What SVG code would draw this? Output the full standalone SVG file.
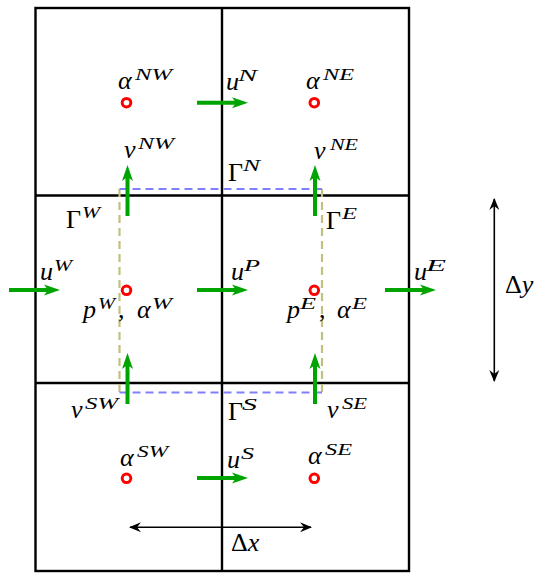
<svg xmlns="http://www.w3.org/2000/svg" width="538" height="573" viewBox="0 0 538 573">
<style>
.grid{fill:none;stroke:#000;stroke-width:2.4}
.g{stroke:#00a400;stroke-width:4;fill:none;marker-end:url(#ga)}
.bk{stroke:#000;stroke-width:1.6;fill:none;marker-start:url(#ka);marker-end:url(#ka)}
.bd{stroke:#8080ff;stroke-width:2.2;stroke-dasharray:8 5;fill:none}
.od{stroke:#c0c080;stroke-width:2.2;stroke-dasharray:8 5;fill:none}
.pt{fill:#fff;stroke:#ff0000;stroke-width:3}
text{font-family:"Liberation Serif","DejaVu Serif",serif;font-size:26px;fill:#000}
.i{font-style:italic}
.s{font-style:italic;font-size:16px}
</style>
<defs>
<marker id="ga" markerUnits="userSpaceOnUse" viewBox="-8 -7 20 14" markerWidth="20" markerHeight="14" refX="0" refY="0" orient="auto" overflow="visible">
<path d="M10,0 L-6,-5.5 L-2,0 L-6,5.5 Z" fill="#00a400"/>
</marker>
<marker id="ka" markerUnits="userSpaceOnUse" viewBox="-10 -6 20 12" markerWidth="20" markerHeight="12" refX="0" refY="0" orient="auto-start-reverse" overflow="visible">
<path d="M1,0 L-11,-5 L-7,0 L-11,5 Z" fill="#000"/>
</marker>
</defs>
<g id="grid">
<rect class="grid" x="35.5" y="8" width="373.5" height="563"/>
<line class="grid" x1="222" y1="8" x2="222" y2="571"/>
<line class="grid" x1="35.5" y1="195.5" x2="409" y2="195.5"/>
<line class="grid" x1="35.5" y1="383" x2="409" y2="383"/>
</g>
<g id="control-volume">
<line class="od" x1="119.5" y1="189" x2="119.5" y2="392.5"/>
<line class="od" x1="322" y1="189" x2="322" y2="392.5"/>
<line class="bd" x1="119.5" y1="189" x2="322" y2="189"/>
<line class="bd" x1="119.5" y1="392.5" x2="322" y2="392.5"/>
</g>
<g id="connectors">
<line class="g" x1="197" y1="102.7" x2="238" y2="102.7"/>
<line class="g" x1="9" y1="290" x2="50" y2="290"/>
<line class="g" x1="197" y1="290" x2="238" y2="290"/>
<line class="g" x1="385" y1="290" x2="426" y2="290"/>
<line class="g" x1="197" y1="478" x2="238" y2="478"/>
<line class="g" x1="127.5" y1="216" x2="127.5" y2="175"/>
<line class="g" x1="315" y1="216" x2="315" y2="175"/>
<line class="g" x1="127.5" y1="404" x2="127.5" y2="363"/>
<line class="g" x1="315" y1="404" x2="315" y2="363"/>
<line class="bk" x1="130" y1="527.3" x2="311" y2="527.3"/>
<line class="bk" x1="494.3" y1="199" x2="494.3" y2="381"/>
</g>
<g id="alpha-NW"><circle class="pt" cx="126.5" cy="102.7" r="4.3"/><text class="i" x="118" y="89">α</text><text class="s" x="135" y="80" textLength="37" lengthAdjust="spacingAndGlyphs">NW</text></g>
<g id="alpha-NE"><circle class="pt" cx="314.3" cy="102.7" r="4.3"/><text class="i" x="306" y="89">α</text><text class="s" x="323" y="80" textLength="31" lengthAdjust="spacingAndGlyphs">NE</text></g>
<g id="p-W"><circle class="pt" cx="126.5" cy="290.3" r="4.3"/><text class="i" x="83" y="318">p</text><text class="s" x="98" y="309" textLength="17" lengthAdjust="spacingAndGlyphs">W</text><text x="118" y="318">,</text><text class="i" x="137" y="318">α</text><text class="s" x="152" y="309" textLength="20" lengthAdjust="spacingAndGlyphs">W</text></g>
<g id="p-E"><circle class="pt" cx="314.3" cy="290.3" r="4.3"/><text class="i" x="287" y="318">p</text><text class="s" x="300" y="309" textLength="16" lengthAdjust="spacingAndGlyphs">E</text><text x="319" y="318">,</text><text class="i" x="337" y="318">α</text><text class="s" x="352" y="309" textLength="15" lengthAdjust="spacingAndGlyphs">E</text></g>
<g id="alpha-SW"><circle class="pt" cx="126.5" cy="478.3" r="4.3"/><text class="i" x="120" y="466">α</text><text class="s" x="137" y="457" textLength="31" lengthAdjust="spacingAndGlyphs">SW</text></g>
<g id="alpha-SE"><circle class="pt" cx="314.3" cy="478.3" r="4.3"/><text class="i" x="308" y="464">α</text><text class="s" x="325" y="455" textLength="27" lengthAdjust="spacingAndGlyphs">SE</text></g>
<g id="u-N"><text class="i" x="226" y="90">u</text><text class="s" x="238" y="81" textLength="19" lengthAdjust="spacingAndGlyphs">N</text></g>
<g id="u-W"><text class="i" x="40" y="280">u</text><text class="s" x="54" y="271" textLength="18" lengthAdjust="spacingAndGlyphs">W</text></g>
<g id="u-P"><text class="i" x="231" y="280">u</text><text class="s" x="244" y="271" textLength="16" lengthAdjust="spacingAndGlyphs">P</text></g>
<g id="u-E"><text class="i" x="414" y="280">u</text><text class="s" x="426" y="271" textLength="20" lengthAdjust="spacingAndGlyphs">E</text></g>
<g id="u-S"><text class="i" x="227" y="468">u</text><text class="s" x="241" y="459" textLength="13" lengthAdjust="spacingAndGlyphs">S</text></g>
<g id="v-NW"><text class="i" x="124" y="158">v</text><text class="s" x="138" y="149" textLength="36" lengthAdjust="spacingAndGlyphs">NW</text></g>
<g id="v-NE"><text class="i" x="314" y="159">v</text><text class="s" x="330" y="150" textLength="28" lengthAdjust="spacingAndGlyphs">NE</text></g>
<g id="v-SW"><text class="i" x="71" y="418">v</text><text class="s" x="85" y="409" textLength="33" lengthAdjust="spacingAndGlyphs">SW</text></g>
<g id="v-SE"><text class="i" x="327" y="418">v</text><text class="s" x="342" y="409" textLength="25" lengthAdjust="spacingAndGlyphs">SE</text></g>
<g id="Gamma-N"><text x="228" y="181">Γ</text><text class="s" x="243" y="171" textLength="17" lengthAdjust="spacingAndGlyphs">N</text></g>
<g id="Gamma-W"><text x="66" y="228">Γ</text><text class="s" x="82" y="218" textLength="18" lengthAdjust="spacingAndGlyphs">W</text></g>
<g id="Gamma-E"><text x="326" y="229">Γ</text><text class="s" x="342" y="219" textLength="15" lengthAdjust="spacingAndGlyphs">E</text></g>
<g id="Gamma-S"><text x="228" y="420">Γ</text><text class="s" x="242" y="410" textLength="15" lengthAdjust="spacingAndGlyphs">S</text></g>
<g id="dx"><text x="231" y="551">Δ<tspan class="i">x</tspan></text></g>
<g id="dy"><text x="505" y="293">Δ<tspan class="i">y</tspan></text></g>
</svg>
